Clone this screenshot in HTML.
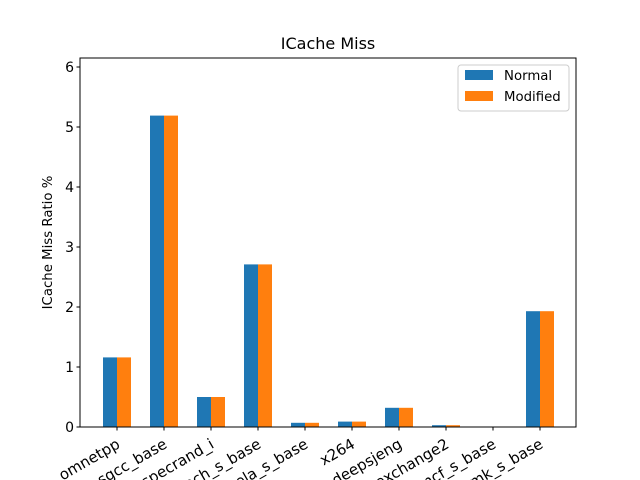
<!DOCTYPE html>
<html><head><meta charset="utf-8"><style>html,body{margin:0;background:#fff;width:640px;height:480px;overflow:hidden}svg{display:block;font-family:"DejaVu Sans","Liberation Sans",sans-serif}</style></head>
<body>
<svg id="c" width="640" height="480"></svg>
<script>
const categories=["omnetpp","sgcc_base","specrand_i","perlbench_s_base","leela_s_base","x264","deepsjeng","exchange2","mcf_s_base","xalancbmk_s_base"];
const normalValues=[1.16,5.19,0.5,2.71,0.07,0.09,0.32,0.03,0.0,1.93];
const modifiedValues=[1.16,5.19,0.5,2.71,0.07,0.09,0.32,0.03,0.0,1.93];
const yTicks=[0,1,2,3,4,5,6];
const svg=document.getElementById('c');const NS='http://www.w3.org/2000/svg';
function mk(t,a,txt){const e=document.createElementNS(NS,t);for(const k in a)e.setAttribute(k,a[k]);if(txt!==undefined)e.textContent=txt;svg.appendChild(e);return e;}
const L=80,R=576,T=58,B=427,yMax=6.15;
const y=v=>B-v/yMax*(B-T);
const step=47,x0=117;const xc=i=>x0+i*step;const bw=14;
let e;
e=mk('text',{x:328,y:49,'text-anchor':'middle','font-size':16},'ICache Miss');

categories.forEach((c,i)=>{
 e=mk('rect',{x:xc(i)-bw,y:y(normalValues[i]),width:bw,height:B-y(normalValues[i]),fill:'#1f77b4'});
 
 e=mk('rect',{x:xc(i),y:y(modifiedValues[i]),width:bw,height:B-y(modifiedValues[i]),fill:'#ff7f0e'});
 
 e=mk('line',{x1:xc(i),x2:xc(i),y1:B,y2:B+3.5,stroke:'#000'});
 
 e=mk('text',{transform:`translate(${xc(i)+4},${B+20}) rotate(-30)`,'text-anchor':'end','font-size':15},c);
 
});
yTicks.forEach(t=>{
 e=mk('line',{x1:L-3.5,x2:L,y1:y(t),y2:y(t),stroke:'#000'});
 
 e=mk('text',{x:L-6,y:y(t)+5,'text-anchor':'end','font-size':14},String(t));
 
});
e=mk('rect',{x:L,y:T,width:R-L,height:B-T,fill:'none',stroke:'#000','stroke-width':1});

e=mk('text',{transform:`translate(52,${(T+B)/2}) rotate(-90)`,'text-anchor':'middle','font-size':13.3},'ICache Miss Ratio %');

e=mk('rect',{x:458,y:65,width:111,height:46,rx:3,fill:'#fff',stroke:'#ccc'});

[['Normal','#1f77b4',76],['Modified','#ff7f0e',97]].forEach(([n,col,yy])=>{
 e=mk('rect',{x:465,y:yy-6,width:28,height:10,fill:col});
 
 e=mk('text',{x:504,y:yy+4,'font-size':13.3},n);
 
});
</script>
</body></html>
